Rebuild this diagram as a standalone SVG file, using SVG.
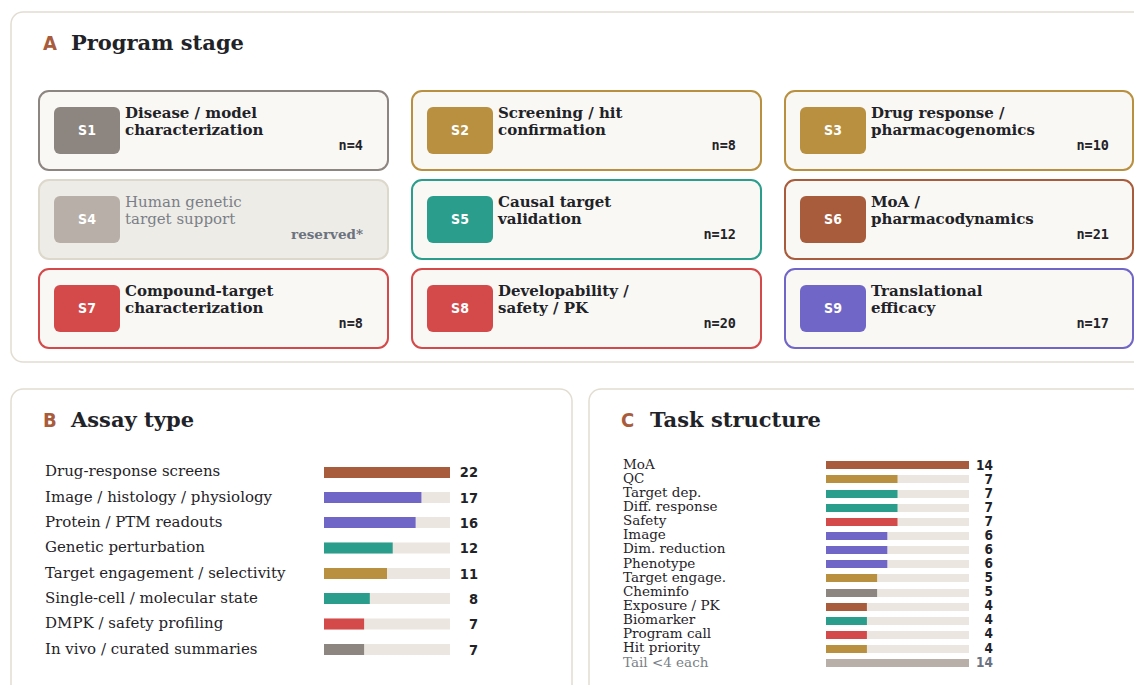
<svg xmlns="http://www.w3.org/2000/svg" width="1134" height="685" viewBox="0 0 1134 685">
<style>
.panel{fill:#ffffff;stroke:#e2ddd1;stroke-width:1.5}
.letter{font-family:"DejaVu Sans",sans-serif;font-stretch:condensed;font-weight:bold;font-size:20px;fill:#a85c3c}
.ptitle{font-family:"DejaVu Serif",serif;font-weight:bold;font-size:21px;fill:#1f2328}
.node{fill:#faf8f4;stroke-width:2}
.badge-t{font-family:"DejaVu Sans",sans-serif;font-stretch:condensed;font-weight:bold;font-size:14px;fill:#ffffff;text-anchor:middle}
.ntitle{font-family:"DejaVu Serif",serif;font-weight:bold;font-size:15px;fill:#1f2328}
.ncount{font-family:"DejaVu Sans Mono",monospace;font-weight:bold;font-size:13.5px;fill:#1f2328;text-anchor:end}
.blab{font-family:"DejaVu Serif",serif;font-size:15px;fill:#1f2328}
.bval{font-family:"DejaVu Sans",sans-serif;font-stretch:condensed;font-weight:bold;font-size:14.5px;fill:#1f2328;text-anchor:end}
.clab{font-family:"DejaVu Serif",serif;font-size:13.5px;fill:#1f2328}
.cval{font-family:"DejaVu Sans",sans-serif;font-stretch:condensed;font-weight:bold;font-size:13.5px;fill:#1f2328;text-anchor:end}
.track{fill:#ebe6df}
</style>

<!-- Panel A -->
<g id="panelA">
<rect class="panel" x="11" y="12" width="1140" height="350" rx="12"/>
<text class="letter" x="43" y="50">A</text>
<text class="ptitle" x="71" y="50">Program stage</text>
</g>

<g id="S1">
<rect class="node" x="39" y="91" width="349" height="79" rx="10" stroke="#8c8580"/>
<rect x="54" y="107" width="66" height="47" rx="6" fill="#8c8580"/>
<text class="badge-t" x="87" y="135">S1</text>
<text class="ntitle" x="125" y="118">Disease / model</text>
<text class="ntitle" x="125" y="135">characterization</text>
<text class="ncount" x="363" y="150">n=4</text>
</g>
<g id="S2">
<rect class="node" x="412" y="91" width="349" height="79" rx="10" stroke="#b89040"/>
<rect x="427" y="107" width="66" height="47" rx="6" fill="#b89040"/>
<text class="badge-t" x="460" y="135">S2</text>
<text class="ntitle" x="498" y="118">Screening / hit</text>
<text class="ntitle" x="498" y="135">confirmation</text>
<text class="ncount" x="736" y="150">n=8</text>
</g>
<g id="S3">
<rect class="node" x="785" y="91" width="348" height="79" rx="10" stroke="#b89040"/>
<rect x="800" y="107" width="66" height="47" rx="6" fill="#b89040"/>
<text class="badge-t" x="833" y="135">S3</text>
<text class="ntitle" x="871" y="118">Drug response /</text>
<text class="ntitle" x="871" y="135">pharmacogenomics</text>
<text class="ncount" x="1109" y="150">n=10</text>
</g>
<g id="S4">
<rect x="39" y="180" width="349" height="79" rx="10" fill="#eeece7" stroke="#ddd8cc" stroke-width="2"/>
<rect x="54" y="196" width="66" height="47" rx="6" fill="#b8b0a8"/>
<text class="badge-t" x="87" y="224">S4</text>
<text x="125" y="207" style="font-family:'DejaVu Serif',serif;font-size:15px;fill:#7a7f87">Human genetic</text>
<text x="125" y="224" style="font-family:'DejaVu Serif',serif;font-size:15px;fill:#7a7f87">target support</text>
<text x="363" y="239" style="font-family:'DejaVu Serif',serif;font-weight:bold;font-size:13.5px;fill:#6b7280;text-anchor:end">reserved*</text>
</g>
<g id="S5">
<rect class="node" x="412" y="180" width="349" height="79" rx="10" stroke="#2a9d8c"/>
<rect x="427" y="196" width="66" height="47" rx="6" fill="#2a9d8c"/>
<text class="badge-t" x="460" y="224">S5</text>
<text class="ntitle" x="498" y="207">Causal target</text>
<text class="ntitle" x="498" y="224">validation</text>
<text class="ncount" x="736" y="239">n=12</text>
</g>
<g id="S6">
<rect class="node" x="785" y="180" width="348" height="79" rx="10" stroke="#a85c3c"/>
<rect x="800" y="196" width="66" height="47" rx="6" fill="#a85c3c"/>
<text class="badge-t" x="833" y="224">S6</text>
<text class="ntitle" x="871" y="207">MoA /</text>
<text class="ntitle" x="871" y="224">pharmacodynamics</text>
<text class="ncount" x="1109" y="239">n=21</text>
</g>
<g id="S7">
<rect class="node" x="39" y="269" width="349" height="79" rx="10" stroke="#d44a4a"/>
<rect x="54" y="285" width="66" height="47" rx="6" fill="#d44a4a"/>
<text class="badge-t" x="87" y="313">S7</text>
<text class="ntitle" x="125" y="296">Compound-target</text>
<text class="ntitle" x="125" y="313">characterization</text>
<text class="ncount" x="363" y="328">n=8</text>
</g>
<g id="S8">
<rect class="node" x="412" y="269" width="349" height="79" rx="10" stroke="#d44a4a"/>
<rect x="427" y="285" width="66" height="47" rx="6" fill="#d44a4a"/>
<text class="badge-t" x="460" y="313">S8</text>
<text class="ntitle" x="498" y="296">Developability /</text>
<text class="ntitle" x="498" y="313">safety / PK</text>
<text class="ncount" x="736" y="328">n=20</text>
</g>
<g id="S9">
<rect class="node" x="785" y="269" width="348" height="79" rx="10" stroke="#7066c8"/>
<rect x="800" y="285" width="66" height="47" rx="6" fill="#7066c8"/>
<text class="badge-t" x="833" y="313">S9</text>
<text class="ntitle" x="871" y="296">Translational</text>
<text class="ntitle" x="871" y="313">efficacy</text>
<text class="ncount" x="1109" y="328">n=17</text>
</g>

<g id="connectors"></g>

<!-- Panel B -->
<g id="panelB">
<rect class="panel" x="11" y="389" width="561" height="320" rx="12"/>
<text class="letter" x="43" y="427">B</text>
<text class="ptitle" x="71" y="427">Assay type</text>

<text class="blab" x="45" y="476">Drug-response screens</text>
<rect class="track" x="324" y="467" width="126" height="11"/>
<rect x="324" y="467" width="126" height="11" fill="#a85c3c"/>
<text class="bval" x="478" y="476.5">22</text>

<text class="blab" x="45" y="502">Image / histology / physiology</text>
<rect class="track" x="324" y="492" width="126" height="11"/>
<rect x="324" y="492" width="97.4" height="11" fill="#7066c8"/>
<text class="bval" x="478" y="502.5">17</text>

<text class="blab" x="45" y="527">Protein / PTM readouts</text>
<rect class="track" x="324" y="517" width="126" height="11"/>
<rect x="324" y="517" width="91.6" height="11" fill="#7066c8"/>
<text class="bval" x="478" y="527.5">16</text>

<text class="blab" x="45" y="552">Genetic perturbation</text>
<rect class="track" x="324" y="542.5" width="126" height="11"/>
<rect x="324" y="542.5" width="68.7" height="11" fill="#2a9d8c"/>
<text class="bval" x="478" y="552.5">12</text>

<text class="blab" x="45" y="578">Target engagement / selectivity</text>
<rect class="track" x="324" y="568" width="126" height="11"/>
<rect x="324" y="568" width="63" height="11" fill="#b89040"/>
<text class="bval" x="478" y="578.5">11</text>

<text class="blab" x="45" y="603">Single-cell / molecular state</text>
<rect class="track" x="324" y="593" width="126" height="11"/>
<rect x="324" y="593" width="45.8" height="11" fill="#2a9d8c"/>
<text class="bval" x="478" y="603.5">8</text>

<text class="blab" x="45" y="628">DMPK / safety profiling</text>
<rect class="track" x="324" y="618.5" width="126" height="11"/>
<rect x="324" y="618.5" width="40.1" height="11" fill="#d44a4a"/>
<text class="bval" x="478" y="628.5">7</text>

<text class="blab" x="45" y="654">In vivo / curated summaries</text>
<rect class="track" x="324" y="644" width="126" height="11"/>
<rect x="324" y="644" width="40.1" height="11" fill="#8c8580"/>
<text class="bval" x="478" y="654.5">7</text>
</g>

<!-- Panel C -->
<g id="panelC">
<rect class="panel" x="589" y="389" width="560" height="320" rx="12"/>
<text class="letter" x="621" y="427">C</text>
<text class="ptitle" x="650" y="427">Task structure</text>

<text class="clab" x="623" y="469">MoA</text>
<rect class="track" x="826" y="461" width="143" height="8"/>
<rect x="826" y="461" width="143" height="8" fill="#a85c3c"/>
<text class="cval" x="993" y="469.5">14</text>

<text class="clab" x="623" y="483">QC</text>
<rect class="track" x="826" y="475" width="143" height="8"/>
<rect x="826" y="475" width="71.5" height="8" fill="#b89040"/>
<text class="cval" x="993" y="483.5">7</text>

<text class="clab" x="623" y="497">Target dep.</text>
<rect class="track" x="826" y="490" width="143" height="8"/>
<rect x="826" y="490" width="71.5" height="8" fill="#2a9d8c"/>
<text class="cval" x="993" y="497.5">7</text>

<text class="clab" x="623" y="511">Diff. response</text>
<rect class="track" x="826" y="504" width="143" height="8"/>
<rect x="826" y="504" width="71.5" height="8" fill="#2a9d8c"/>
<text class="cval" x="993" y="511.5">7</text>

<text class="clab" x="623" y="525">Safety</text>
<rect class="track" x="826" y="518" width="143" height="8"/>
<rect x="826" y="518" width="71.5" height="8" fill="#d44a4a"/>
<text class="cval" x="993" y="525.5">7</text>

<text class="clab" x="623" y="539">Image</text>
<rect class="track" x="826" y="532" width="143" height="8"/>
<rect x="826" y="532" width="61.3" height="8" fill="#7066c8"/>
<text class="cval" x="993" y="539.5">6</text>

<text class="clab" x="623" y="553">Dim. reduction</text>
<rect class="track" x="826" y="546" width="143" height="8"/>
<rect x="826" y="546" width="61.3" height="8" fill="#7066c8"/>
<text class="cval" x="993" y="553.5">6</text>

<text class="clab" x="623" y="568">Phenotype</text>
<rect class="track" x="826" y="560" width="143" height="8"/>
<rect x="826" y="560" width="61.3" height="8" fill="#7066c8"/>
<text class="cval" x="993" y="568">6</text>

<text class="clab" x="623" y="582">Target engage.</text>
<rect class="track" x="826" y="574" width="143" height="8"/>
<rect x="826" y="574" width="51.1" height="8" fill="#b89040"/>
<text class="cval" x="993" y="582">5</text>

<text class="clab" x="623" y="596">Cheminfo</text>
<rect class="track" x="826" y="589" width="143" height="8"/>
<rect x="826" y="589" width="51.1" height="8" fill="#8c8580"/>
<text class="cval" x="993" y="596">5</text>

<text class="clab" x="623" y="610">Exposure / PK</text>
<rect class="track" x="826" y="603" width="143" height="8"/>
<rect x="826" y="603" width="40.9" height="8" fill="#a85c3c"/>
<text class="cval" x="993" y="610">4</text>

<text class="clab" x="623" y="624">Biomarker</text>
<rect class="track" x="826" y="617" width="143" height="8"/>
<rect x="826" y="617" width="40.9" height="8" fill="#2a9d8c"/>
<text class="cval" x="993" y="624">4</text>

<text class="clab" x="623" y="638">Program call</text>
<rect class="track" x="826" y="631" width="143" height="8"/>
<rect x="826" y="631" width="40.9" height="8" fill="#d44a4a"/>
<text class="cval" x="993" y="638">4</text>

<text class="clab" x="623" y="652">Hit priority</text>
<rect class="track" x="826" y="645" width="143" height="8"/>
<rect x="826" y="645" width="40.9" height="8" fill="#b89040"/>
<text class="cval" x="993" y="652.5">4</text>

<text class="clab" x="623" y="667" style="fill:#7a7f87">Tail &lt;4 each</text>
<rect x="826" y="659" width="143" height="8" fill="#b8b0a8"/>
<text class="cval" x="993" y="667" style="fill:#6b7280">14</text>
</g>
</svg>
